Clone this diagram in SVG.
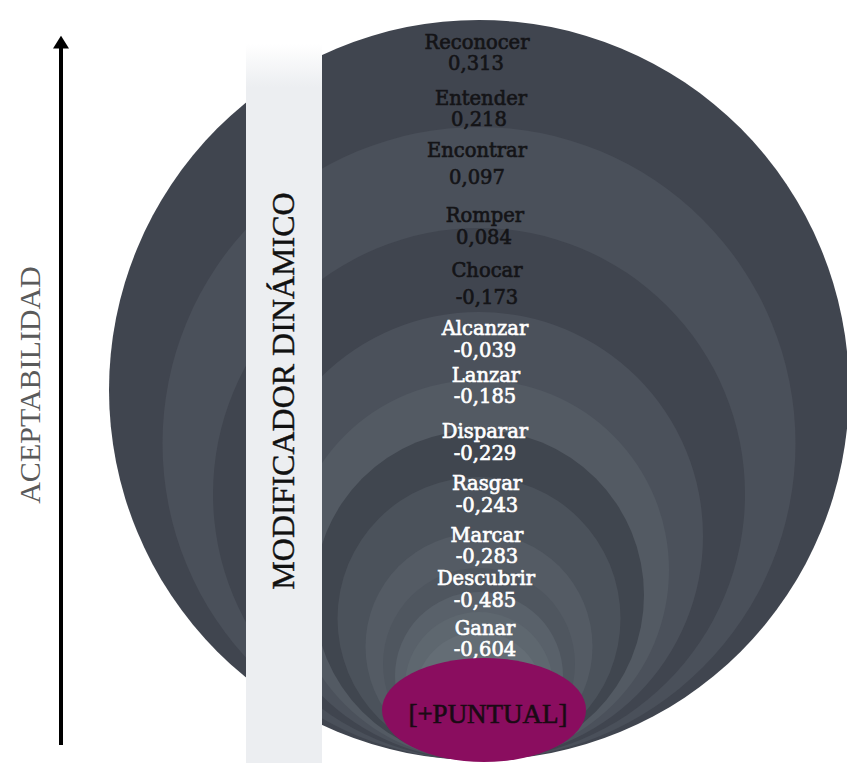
<svg xmlns="http://www.w3.org/2000/svg" width="847" height="763" viewBox="0 0 847 763">
<defs>
<style>
.lbl{font-family:"DejaVu Serif","Liberation Serif",serif;font-size:19.5px;text-anchor:middle;stroke-width:0.65px}
.dk{fill:#141417;stroke:#141417}
.wt{fill:#ffffff;stroke:#ffffff}
</style>
<linearGradient id="barGrad" x1="0" y1="0" x2="0" y2="1">
<stop offset="0" stop-color="#ffffff"/>
<stop offset="0.06" stop-color="#eceef1"/>
<stop offset="1" stop-color="#eceef1"/>
</linearGradient>
<marker id="arrowHead" viewBox="0 0 10 10" refX="1" refY="5" markerWidth="4" markerHeight="4" orient="auto" markerUnits="strokeWidth">
<path d="M0,0 L8,5 L0,10 Z" fill="#000"/>
</marker>
</defs>
<rect width="847" height="763" fill="#ffffff"/>
<g id="circles">
<circle cx="479" cy="390" r="370" fill="#40454f"/>
<circle cx="479" cy="443.5" r="316.5" fill="#4a505a"/>
<circle cx="479" cy="494" r="266" fill="#40454f"/>
<circle cx="479" cy="536" r="224" fill="#4b515b"/>
<circle cx="479" cy="570" r="190" fill="#535a63"/>
<circle cx="479" cy="595" r="165" fill="#40464f"/>
<circle cx="479" cy="618.5" r="141.5" fill="#4b525b"/>
<circle cx="479" cy="646.5" r="113.5" fill="#545b64"/>
<circle cx="479" cy="664" r="96" fill="#4f565f"/>
<circle cx="479" cy="676" r="84" fill="#59616a"/>
<circle cx="479" cy="686" r="74" fill="#5e676f"/>
<circle cx="479" cy="696" r="64" fill="#646d75"/>
</g>
<g id="bar">
<rect x="246" y="44" width="76" height="719" fill="url(#barGrad)"/>
<text x="0" y="0" transform="translate(294,391) rotate(-90)" font-family="Liberation Serif, serif" font-size="32" text-anchor="middle" fill="#111" stroke="#111" stroke-width="0.4">MODIFICADOR DINÁMICO</text>
</g>
<g id="connectors">
<line x1="61" y1="745" x2="61" y2="47" stroke="#000" stroke-width="4" marker-end="url(#arrowHead)"/>
</g>
<g id="axis-label">
<text x="0" y="0" transform="translate(40,385) rotate(-90)" font-family="Liberation Serif, serif" font-size="30" text-anchor="middle" fill="#5a5a5a">ACEPTABILIDAD</text>
</g>
<g id="labels">
<g id="n-reconocer"><text class="lbl dk" x="477" y="49">Reconocer</text><text class="lbl dk" x="476" y="70">0,313</text></g>
<g id="n-entender"><text class="lbl dk" x="481" y="105">Entender</text><text class="lbl dk" x="479" y="126">0,218</text></g>
<g id="n-encontrar"><text class="lbl dk" x="477" y="157">Encontrar</text><text class="lbl dk" x="477" y="184">0,097</text></g>
<g id="n-romper"><text class="lbl dk" x="485" y="222">Romper</text><text class="lbl dk" x="484" y="244">0,084</text></g>
<g id="n-chocar"><text class="lbl dk" x="487" y="277">Chocar</text><text class="lbl dk" x="487" y="304">-0,173</text></g>
<g id="n-alcanzar"><text class="lbl wt" x="485" y="335">Alcanzar</text><text class="lbl wt" x="485" y="357">-0,039</text></g>
<g id="n-lanzar"><text class="lbl wt" x="486" y="382">Lanzar</text><text class="lbl wt" x="485" y="403">-0,185</text></g>
<g id="n-disparar"><text class="lbl wt" x="485" y="438">Disparar</text><text class="lbl wt" x="485" y="460">-0,229</text></g>
<g id="n-rasgar"><text class="lbl wt" x="487" y="490">Rasgar</text><text class="lbl wt" x="487" y="512">-0,243</text></g>
<g id="n-marcar"><text class="lbl wt" x="487" y="542">Marcar</text><text class="lbl wt" x="487" y="563">-0,283</text></g>
<g id="n-descubrir"><text class="lbl wt" x="486" y="585">Descubrir</text><text class="lbl wt" x="485" y="607">-0,485</text></g>
<g id="n-ganar"><text class="lbl wt" x="485" y="635">Ganar</text><text class="lbl wt" x="485" y="656">-0,604</text></g>
</g>
<g id="n-puntual">
<ellipse cx="484" cy="710" rx="102" ry="52" fill="#8a0d5f"/>
<text x="488" y="723" font-family="Liberation Serif, serif" font-size="27" text-anchor="middle" fill="#1a0a14" stroke="#1a0a14" stroke-width="0.6">[+PUNTUAL]</text>
</g>
</svg>
